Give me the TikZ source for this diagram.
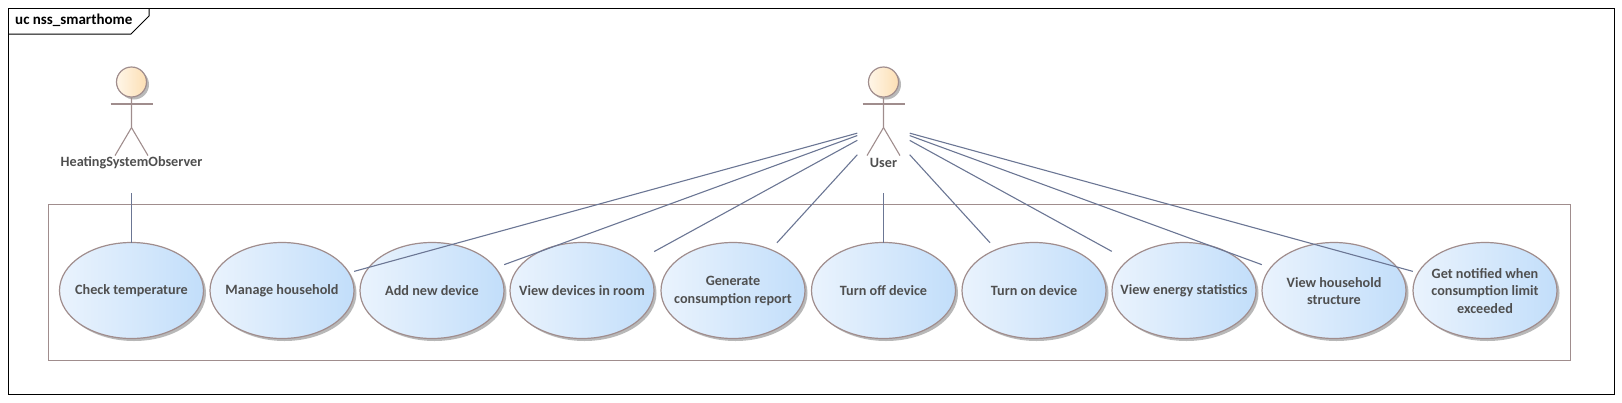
\documentclass[tikz,border=0pt]{standalone}
\usepackage{fontspec}
\setmainfont{Carlito}
\usetikzlibrary{shapes.geometric,shadows}
\definecolor{umlline}{HTML}{A08D8D}
\definecolor{assocline}{HTML}{6B7694}
\definecolor{umltext}{HTML}{4F4F4F}
\definecolor{ucleft}{HTML}{EAF3FD}
\definecolor{ucright}{HTML}{C2DEFA}
\definecolor{headleft}{HTML}{FFF6E8}
\definecolor{headright}{HTML}{FCDFB4}
\tikzset{
    softshadow/.style={drop shadow={shadow xshift=2.5pt,shadow yshift=-2.5pt,opacity=.5,fill=black!55}},
    usecase/.style={ellipse,draw=umlline,line width=1.2pt,minimum width=144pt,minimum height=96pt,
        inner sep=0pt,left color=ucleft,right color=ucright,softshadow},
    ucbox/.style={rectangle,minimum width=144pt,minimum height=96pt,inner sep=0pt,align=center,
        text=umltext,font=\bfseries\fontsize{14.2}{17.5}\selectfont},
    actorbox/.style={rectangle,minimum width=52pt,minimum height=134pt,inner sep=0pt},
    actorhead/.style={circle,draw=umlline,line width=1.2pt,minimum size=30pt,inner sep=0pt,
        left color=headleft,right color=headright,softshadow},
    actorline/.style={draw=umlline,line width=1.1pt},
    assoc/.style={draw=assocline,line width=1.1pt},
}
\begin{document}
\begin{tikzpicture}[x=1pt,y=-1pt]
    \useasboundingbox (0,0) rectangle (1622,402);
    \draw[black,line width=1pt] (8,8) rectangle (1614,394);
    \node[anchor=west,inner sep=0pt,font=\bfseries\fontsize{15}{18}\selectfont] (frametitle) at (15,20.5) {uc nss\_smarthome};
    \draw[black,line width=1pt] (8,34) -- (131,34) -- (149,16) -- (149,8);
    \draw[umlline,line width=1pt,fill=white] (48.5,204) rectangle (1570,360);
    \foreach \name/\x/\txt in {observer/131.5/HeatingSystemObserver,user/883.5/User} {
        \node[actorhead] (\name-head) at (\x,82) {};
        \draw[actorline] (\name-head.south) -- ++(0,30) coordinate (\name-hip) -- ++(-16.5,28);
        \draw[actorline] (\name-hip) -- ++(16.5,28);
        \draw[actorline] (\x-21,104) -- (\x+21,104);
        \node[umltext,inner sep=0pt,font=\bfseries\fontsize{14.2}{17.5}\selectfont] (\name-label) at (\x,163) {\txt};
        \node[actorbox] (\name) at (\x,126) {};
    }
    \foreach \name/\x/\txt in {ct/131.5/Check temperature,mh/282/Manage household,
        nd/432/Add new device,vd/582/View devices in room,
        gr/733/{Generate\\consumption report},off/883.5/Turn off device,
        on/1034/Turn on device,es/1184/View energy statistics,
        hs/1334/{View household\\structure},ln/1485/{Get notified when\\consumption limit\\exceeded}} {
        \node[usecase] (\name-e) at (\x,290.5) {};
        \node[ucbox] (\name) at (\x,291) {\txt};
    }
    \draw[assoc] (observer) -- (ct);
    \foreach \name in {mh,nd,vd,gr,off,on,es,hs,ln}
        \draw[assoc] (user) -- (\name);
\end{tikzpicture}
\end{document}
